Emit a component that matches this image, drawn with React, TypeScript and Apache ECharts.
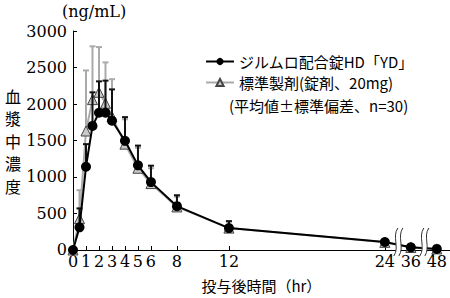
import React, { useEffect, useRef } from "react";
import * as echarts from "echarts";

const times = [0, 0.5, 1, 1.5, 2, 2.5, 3, 4, 5, 6, 8, 12, 24, 36, 48];
const ydMean = [0, 310, 1140, 1700, 1880, 1880, 1770, 1495, 1160, 930, 600, 300, 110, 37, 15];
const ydUpper = [0, 570, 1450, 2160, 2310, 2320, 2200, 1820, 1430, 1155, 750, 395, 140, 50, 25];
const refMean = [0, 430, 1630, 2060, 2160, 2010, 1830, 1450, 1120, 910, 590, 300, 105, 35, 15];
const refUpper = [0, 820, 2460, 2790, 2780, 2570, 2340, 1790, 1400, 1120, 730, 390, 135, 48, 22];
const xLabelValues = [0, 1, 2, 3, 4, 5, 6, 8, 12, 24, 36, 48];
const xTickValues = [1, 2, 3, 4, 5, 6, 8, 12, 24, 36, 48];
const breakHours = [30, 42];
const ydName = "ジルムロ配合錠HD「YD」";
const refName = "標準製剤(錠剤、20mg)";
const noteText = "(平均値±標準偏差、n=30)";
const yTitleChars = ["血", "漿", "中", "濃", "度"];

// compressed time scale after 24 h
const pos = (t: number) => (t <= 24 ? t : 24 + (t - 24) / 6);
const unpos = (p: number) => (p <= 24 ? p : 24 + (p - 24) * 6);

const serif = "DejaVu Serif";
const cjk = "Noto Sans CJK JP";

function errSeries(mean: number[], upper: number[], color: string, z: number) {
  return {
    type: "custom",
    z,
    silent: true,
    data: times.map((t, i) => [pos(t), mean[i], upper[i]]),
    renderItem: (params: any, api: any) => {
      const x = api.value(0);
      const p1 = api.coord([x, api.value(1)]);
      const p2 = api.coord([x, api.value(2)]);
      const style = { stroke: color, lineWidth: 2 };
      return {
        type: "group",
        children: [
          { type: "line", shape: { x1: p1[0], y1: p1[1], x2: p2[0], y2: p2[1] }, style },
          { type: "line", shape: { x1: p2[0] - 3, y1: p2[1], x2: p2[0] + 3, y2: p2[1] }, style },
        ],
      };
    },
  };
}

export default function App() {
  const ref = useRef<HTMLDivElement>(null);
  useEffect(() => {
    const chart = echarts.init(ref.current!, null, { renderer: "svg" });
    const option: any = {
      animation: false,
      grid: { left: 73, right: 0, top: 31, bottom: 46 },
      legend: {
        orient: "vertical",
        left: 200,
        top: 49,
        itemWidth: 28,
        itemHeight: 9,
        itemGap: 6,
        data: [ydName, refName],
        textStyle: { fontFamily: cjk, fontSize: 15, color: "#000" },
      },
      xAxis: {
        type: "value",
        min: 0,
        max: 29,
        interval: 1,
        splitLine: { show: false },
        axisLine: { lineStyle: { color: "#000", width: 1 } },
        axisTick: {
          inside: true,
          length: 4,
          lineStyle: { color: "#000" },
          customValues: xTickValues.map(pos),
        },
        axisLabel: {
          customValues: xLabelValues.map(pos),
          formatter: (v: number) => String(Math.round(unpos(v))),
          fontFamily: serif,
          fontSize: 16,
          color: "#000",
          margin: 4,
        },
        name: "投与後時間（hr）",
        nameLocation: "middle",
        nameGap: 28,
        nameTextStyle: { fontFamily: cjk, fontSize: 15, color: "#000" },
      },
      yAxis: {
        type: "value",
        min: 0,
        max: 3000,
        interval: 500,
        splitLine: { show: false },
        axisLine: { show: true, lineStyle: { color: "#000", width: 1 } },
        axisTick: { inside: true, length: 4, lineStyle: { color: "#000" } },
        axisLabel: {
          formatter: (v: number) => String(v),
          fontFamily: serif,
          fontSize: 16,
          color: "#000",
          margin: 6,
        },
      },
      series: [
        errSeries(refMean, refUpper, "#aaaaaa", 2),
        {
          name: refName,
          type: "line",
          z: 3,
          data: times.map((t, i) => [pos(t), refMean[i]]),
          symbol: "triangle",
          symbolSize: 10,
          lineStyle: { color: "#aaaaaa", width: 2 },
          itemStyle: { color: "#c8c8c8", borderColor: "#444", borderWidth: 1 },
        },
        errSeries(ydMean, ydUpper, "#111111", 4),
        {
          name: ydName,
          type: "line",
          z: 5,
          data: times.map((t, i) => [pos(t), ydMean[i]]),
          symbol: "circle",
          symbolSize: 10,
          lineStyle: { color: "#000", width: 2 },
          itemStyle: { color: "#000" },
        },
      ],
    };
    chart.setOption(option);

    const gy = chart.convertToPixel({ yAxisIndex: 0 }, 0) as number;
    const breaks: any[] = [];
    breakHours.forEach((h) => {
      const x = chart.convertToPixel({ xAxisIndex: 0 }, pos(h)) as number;
      const top = gy - 22;
      const bot = gy + 6;
      breaks.push({
        type: "rect",
        z: 100,
        shape: { x: x - 2, y: top, width: 5, height: bot - top },
        style: { fill: "#fff" },
      });
      [-2.5, 2.5].forEach((dx) => {
        const cx = x + dx + 0.5;
        breaks.push({
          type: "bezierCurve",
          z: 101,
          shape: {
            x1: cx + 2,
            y1: top,
            cpx1: cx - 4,
            cpy1: top + 9,
            cpx2: cx + 4,
            cpy2: bot - 9,
            x2: cx - 2,
            y2: bot,
          },
          style: { stroke: "#333", lineWidth: 1, fill: null },
        });
      });
    });
    chart.setOption({
      graphic: [
        ...breaks,
        {
          type: "text",
          left: 62,
          top: 3,
          style: { text: "(ng/mL)", fontFamily: serif, fontSize: 16, fill: "#000" },
        },
        {
          type: "text",
          left: 229,
          top: 98,
          style: { text: noteText, fontFamily: cjk, fontSize: 15, fill: "#000" },
        },
        ...yTitleChars.map((c, i) => ({
          type: "text",
          left: 5,
          top: 87 + i * 22.5,
          style: { text: c, fontFamily: cjk, fontSize: 16, lineHeight: 17, fill: "#000" },
        })),
      ],
    });
    return () => chart.dispose();
  }, []);
  return (
    <div
      ref={ref}
      style={{ position: "absolute", left: 0, top: 0, width: 450, height: 298 }}
    />
  );
}
